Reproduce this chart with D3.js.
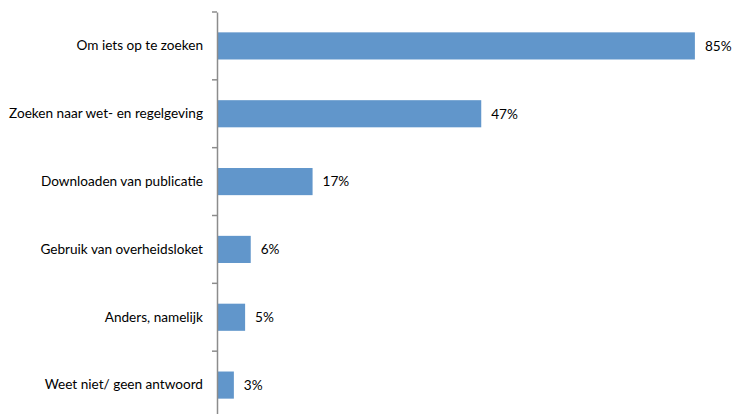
<!DOCTYPE html>
<html>
<head>
<meta charset="utf-8">
<script src="https://cdn.jsdelivr.net/npm/d3@7"></script>
<style>
  body { margin: 0; background: #fff; }
  text { font-family: Lato, "Open Sans", sans-serif; font-size: 13.6px; fill: #000; }
</style>
</head>
<body>
<div id="chart"></div>
<script>
// Categories and values (percent)
const categories = [
  "Om iets op te zoeken",
  "Zoeken naar wet- en regelgeving",
  "Downloaden van publicatie",
  "Gebruik van overheidsloket",
  "Anders, namelijk",
  "Weet niet/ geen antwoord"
];
const values = [85, 47, 17, 6, 5, 3];

const width = 732, height = 414;

const svg = d3.select("#chart")
  .append("svg")
  .attr("width", width)
  .attr("height", height);

const xScale = d3.scaleLinear().domain([0, 90]).range([217, 723]);
const yScale = d3.scaleBand().domain(categories).range([12, 419]).paddingInner(0.6).paddingOuter(0.3);
const bandAxis = d3.scaleBand().domain(categories).range([12, 419]);

// Bars
svg.selectAll("rect.bar")
  .data(categories)
  .enter()
  .append("rect")
  .attr("class", "bar")
  .attr("x", xScale(0))
  .attr("y", d => yScale(d))
  .attr("width", (d, i) => xScale(values[i]) - xScale(0))
  .attr("height", yScale.bandwidth())
  .attr("fill", "#6196CB");

// Value labels
svg.selectAll("text.val")
  .data(categories)
  .enter()
  .append("text")
  .attr("class", "val")
  .attr("x", (d, i) => xScale(values[i]) + 10)
  .attr("y", d => yScale(d) + yScale.bandwidth() / 2)
  .attr("dy", "0.35em")
  .text((d, i) => values[i] + "%");

// Category axis
const axis = svg.append("g")
  .attr("transform", `translate(${xScale(0)},0)`)
  .call(d3.axisLeft(bandAxis).tickSize(0).tickPadding(14));
axis.select(".domain").attr("stroke", "#8c8c8c").attr("stroke-width", 1.5);
axis.selectAll("text").style("font-family", "Lato, 'Open Sans', sans-serif").style("font-size", "13.6px").attr("fill", "#000");

// Category separator ticks
const tickPos = d3.range(categories.length + 1).map(i => 12 + i * bandAxis.step());
svg.selectAll("line.sep")
  .data(tickPos)
  .enter()
  .append("line")
  .attr("class", "sep")
  .attr("x1", xScale(0) - 5)
  .attr("x2", xScale(0))
  .attr("y1", d => d)
  .attr("y2", d => d)
  .attr("stroke", "#8c8c8c")
  .attr("stroke-width", 1.5);
</script>
</body>
</html>
